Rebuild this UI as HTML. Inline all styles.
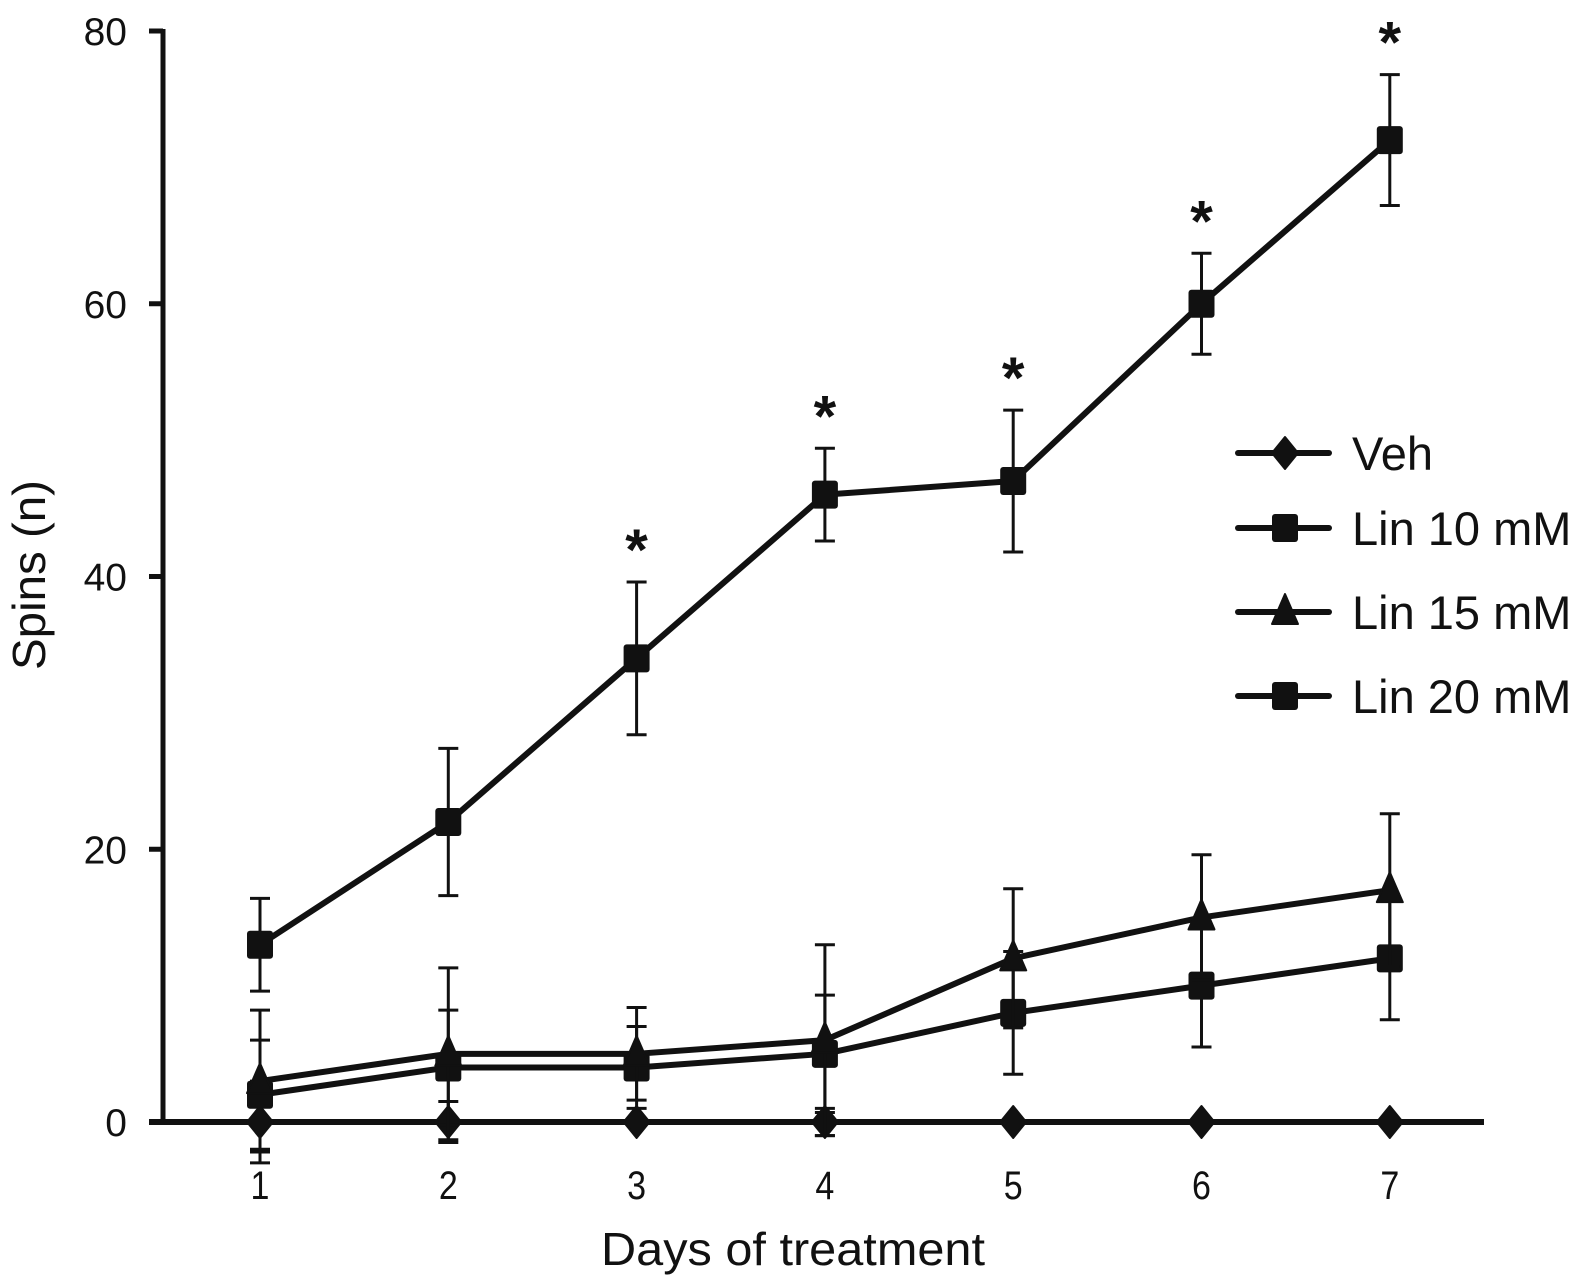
<!DOCTYPE html>
<html><head><meta charset="utf-8"><style>
html,body{margin:0;padding:0;background:#fff;}
svg{display:block;font-family:"Liberation Sans",sans-serif;}
</style></head><body>
<svg id="chart" width="1576" height="1284" viewBox="0 0 1576 1284" xmlns="http://www.w3.org/2000/svg"></svg>
<script>
const days = [1,2,3,4,5,6,7];
const yTicks = [0,20,40,60,80];
const vehVals = [0,0,0,0,0,0,0];
const vehErr = [3,1.5,0,1,0,0,0];
const lin10Vals = [13,22,34,46,47,60,72];
const lin10Err = [3.4,5.4,5.6,3.4,5.2,3.7,4.8];
const lin15Vals = [3,5,5,6,12,15,17];
const lin15Err = [5.2,6.3,3.4,7,5.1,4.6,5.6];
const lin20Vals = [2,4,4,5,8,10,12];
const lin20Err = [4,4.2,3,4.3,4.5,4.5,4.5];
const sigDays = [3,4,5,6,7];
const legendLabels = ["Veh","Lin 10 mM","Lin 15 mM","Lin 20 mM"];

const svg = document.getElementById('chart');
const NS = "http://www.w3.org/2000/svg";
const x0=260, xStep=188.3, y0=1122, yScale=(1122-31)/80;
const X = d => x0 + (d-1)*xStep;
const Y = v => y0 - v*yScale;
function mk(tag, attrs, parent){const e=document.createElementNS(NS,tag);for(const k in attrs)e.setAttribute(k,attrs[k]);(parent||svg).appendChild(e);return e;}
const C="#111";

let g = mk('g',{});


mk('line',{x1:163,y1:29,x2:163,y2:1124,stroke:C,'stroke-width':5},g);
yTicks.forEach(t=>{
  mk('line',{x1:149,y1:Y(t),x2:163,y2:Y(t),stroke:C,'stroke-width':5},g);
  const tx=mk('text',{x:127,y:Y(t)+14,'text-anchor':'end','font-size':39,fill:C},g);
  
  
  tx.textContent=t;
});
let gx = mk('g',{});


mk('line',{x1:149,y1:y0,x2:1484,y2:y0,stroke:C,'stroke-width':6},gx);
days.forEach(d=>{
  const tx=mk('text',{x:X(d),y:1199,'text-anchor':'middle','font-size':40,fill:C,transform:`translate(${X(d)},0) scale(0.85,1) translate(${-X(d)},0)`},gx);
  
  
  tx.textContent=d;
});
let xt=mk('text',{x:793,y:1265,'text-anchor':'middle','font-size':46,fill:C,textLength:384,lengthAdjust:'spacingAndGlyphs'});


xt.textContent='Days of treatment';
let yt=mk('text',{x:0,y:0,'text-anchor':'middle','font-size':46,fill:C,transform:'translate(45,575) rotate(-90)',textLength:190,lengthAdjust:'spacingAndGlyphs'});


yt.textContent='Spins (n)';

function marker(type,cx,cy,parent){
  if(type==='diamond') return mk('path',{d:`M${cx},${cy-16}L${cx+13},${cy}L${cx},${cy+16}L${cx-13},${cy}Z`,fill:C,'stroke-linejoin':'round',stroke:C,'stroke-width':2},parent);
  if(type==='square') return mk('rect',{x:cx-13,y:cy-14,width:26,height:28,rx:3,fill:C},parent);
  return mk('path',{d:`M${cx},${cy-18}L${cx+13},${cy+12}L${cx-13},${cy+12}Z`,fill:C,stroke:C,'stroke-width':2,'stroke-linejoin':'round'},parent);
}
function series(name,vals,errs,type){
  const sg=mk('g',{});
  
  
  vals.forEach((v,i)=>{
    if(errs[i]>0){
      const x=X(days[i]);
      mk('line',{x1:x,y1:Y(v+errs[i]),x2:x,y2:Y(v-errs[i]),stroke:C,'stroke-width':3},sg);
      mk('line',{x1:x-10,y1:Y(v+errs[i]),x2:x+10,y2:Y(v+errs[i]),stroke:C,'stroke-width':3},sg);
      mk('line',{x1:x-10,y1:Y(v-errs[i]),x2:x+10,y2:Y(v-errs[i]),stroke:C,'stroke-width':3},sg);
    }
  });
  mk('polyline',{points:vals.map((v,i)=>X(days[i])+','+Y(v)).join(' '),fill:'none',stroke:C,'stroke-width':6,'stroke-linejoin':'round'},sg);
  vals.forEach((v,i)=>{
    const m=marker(type,X(days[i]),Y(v),sg);
    
    
  });
}
series('series-veh',vehVals,vehErr,'diamond');
series('series-lin20',lin20Vals,lin20Err,'square');
series('series-lin15',lin15Vals,lin15Err,'triangle');
series('series-lin10',lin10Vals,lin10Err,'square');

sigDays.forEach(d=>{
  const i=days.indexOf(d);
  const s=mk('text',{x:X(d),y:Y(lin10Vals[i]+lin10Err[i])-12,'text-anchor':'middle','font-size':58,'font-weight':'bold',fill:C});
  
  
  s.textContent='*';
});

const types=['diamond','square','triangle','square'];
const rowsY=[453,528,612,696];
legendLabels.forEach((lab,i)=>{
  const lg=mk('g',{});
  
  
  mk('line',{x1:1238,y1:rowsY[i],x2:1329,y2:rowsY[i],stroke:C,'stroke-width':6,'stroke-linecap':'round'},lg);
  marker(types[i],1285,rowsY[i],lg);
  const t=mk('text',{x:1352,y:rowsY[i]+17,'font-size':47,fill:C},lg);
  t.textContent=lab;
});
</script>
</body></html>
